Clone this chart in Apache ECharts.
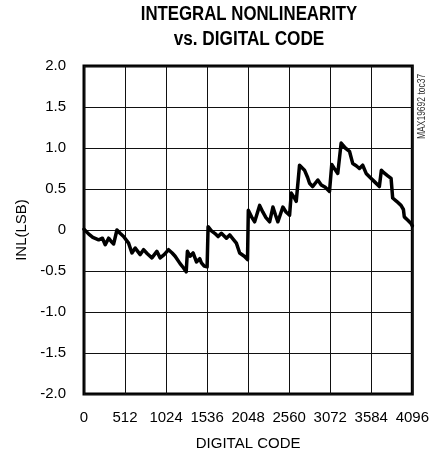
<!DOCTYPE html>
<html>
<head>
<meta charset="utf-8">
<script src="https://cdn.jsdelivr.net/npm/echarts@6/dist/echarts.min.js"></script>
<style>
html,body{margin:0;padding:0;background:#fff;}
#c{width:432px;height:458px;}
</style>
</head>
<body>
<div id="c"></div>
<script>
// Digital code (x) and INL in LSB (y)
var codes = [0, 16, 60, 110, 183, 230, 265, 307, 340, 370, 384, 411, 450, 494, 556, 598, 639, 670, 701, 743, 790, 847, 909, 950, 1000, 1055, 1100, 1137, 1199, 1240, 1275, 1290, 1323, 1361, 1403, 1444, 1465, 1500, 1536, 1548, 1590, 1631, 1673, 1714, 1777, 1818, 1860, 1901, 1942, 2000, 2040, 2050, 2090, 2129, 2191, 2230, 2270, 2316, 2357, 2390, 2419, 2481, 2520, 2565, 2586, 2620, 2648, 2689, 2751, 2790, 2814, 2852, 2917, 2960, 3010, 3063, 3091, 3130, 3166, 3208, 3260, 3312, 3353, 3400, 3436, 3477, 3520, 3570, 3623, 3685, 3710, 3740, 3790, 3831, 3851, 3900, 3955, 3985, 3996, 4040, 4080, 4096];
var inl   = [0.01, 0.00, -0.05, -0.09, -0.12, -0.10, -0.18, -0.10, -0.14, -0.17, -0.18, 0.00, -0.04, -0.08, -0.16, -0.28, -0.22, -0.26, -0.30, -0.24, -0.29, -0.34, -0.26, -0.34, -0.30, -0.24, -0.28, -0.32, -0.41, -0.46, -0.51, -0.26, -0.32, -0.28, -0.39, -0.35, -0.40, -0.44, -0.45, 0.04, -0.01, -0.04, -0.08, -0.04, -0.10, -0.06, -0.11, -0.16, -0.28, -0.32, -0.36, 0.24, 0.16, 0.10, 0.30, 0.22, 0.15, 0.10, 0.28, 0.18, 0.10, 0.28, 0.22, 0.18, 0.45, 0.40, 0.35, 0.79, 0.73, 0.64, 0.57, 0.53, 0.61, 0.55, 0.52, 0.47, 0.80, 0.74, 0.69, 1.06, 1.00, 0.96, 0.81, 0.78, 0.75, 0.79, 0.69, 0.64, 0.59, 0.53, 0.73, 0.70, 0.66, 0.63, 0.39, 0.35, 0.30, 0.25, 0.16, 0.12, 0.08, 0.05];
var xTicks = [0, 512, 1024, 1536, 2048, 2560, 3072, 3584, 4096];
var yTicks = [-2.0, -1.5, -1.0, -0.5, 0, 0.5, 1.0, 1.5, 2.0];
var titleLines = ['INTEGRAL NONLINEARITY', 'vs. DIGITAL CODE'];

var font = "'Liberation Sans', Arial, sans-serif";
var chart = echarts.init(document.getElementById('c'), null, {renderer: 'canvas'});
var data = codes.map(function (c, i) { return [c, inl[i]]; });

chart.setOption({
  animation: false,
  backgroundColor: '#ffffff',
  graphic: [
    {type: 'text', x: 249, y: 4, scaleX: 0.84, style: {text: titleLines[0], font: "bold 20px " + font, fill: '#000', align: 'center', verticalAlign: 'top'}},
    {type: 'text', x: 249, y: 29, scaleX: 0.86, style: {text: titleLines[1], font: "bold 20px " + font, fill: '#000', align: 'center', verticalAlign: 'top'}},
    {type: 'text', x: 422, y: 139, rotation: Math.PI / 2, scaleX: 0.85, style: {text: 'MAX19692 toc37', font: "10px " + font, fill: '#333', align: 'left', verticalAlign: 'middle'}}
  ],
  grid: {left: 84, right: 19, top: 66, bottom: 64, show: true, borderColor: '#000', borderWidth: 3, backgroundColor: 'transparent'},
  xAxis: {
    type: 'value', min: xTicks[0], max: xTicks[xTicks.length - 1], interval: 512,
    name: 'DIGITAL CODE', nameLocation: 'middle', nameGap: 42,
    nameTextStyle: {fontFamily: font, fontSize: 15, color: '#000'},
    axisLine: {show: false}, axisTick: {show: false},
    axisLabel: {margin: 16, fontFamily: font, fontSize: 15, color: '#000', showMinLabel: true, showMaxLabel: true,
      formatter: function (v) { return String(v); }},
    splitLine: {show: true, lineStyle: {color: '#111', width: 1}}
  },
  yAxis: {
    type: 'value', min: yTicks[0], max: yTicks[yTicks.length - 1], interval: 0.5,
    name: 'INL(LSB)', nameLocation: 'middle', nameGap: 55, nameRotate: 90,
    nameTextStyle: {fontFamily: font, fontSize: 15, color: '#000'},
    axisLine: {show: false}, axisTick: {show: false},
    axisLabel: {margin: 18, fontFamily: font, fontSize: 15, color: '#000',
      formatter: function (v) { return v === 0 ? '0' : v.toFixed(1); }},
    splitLine: {show: true, lineStyle: {color: '#111', width: 1}}
  },
  series: [{
    type: 'line', data: data, symbol: 'none', smooth: false,
    lineStyle: {color: '#000', width: 3.5, join: 'round', cap: 'round'}
  }]
});
</script>
</body>
</html>
